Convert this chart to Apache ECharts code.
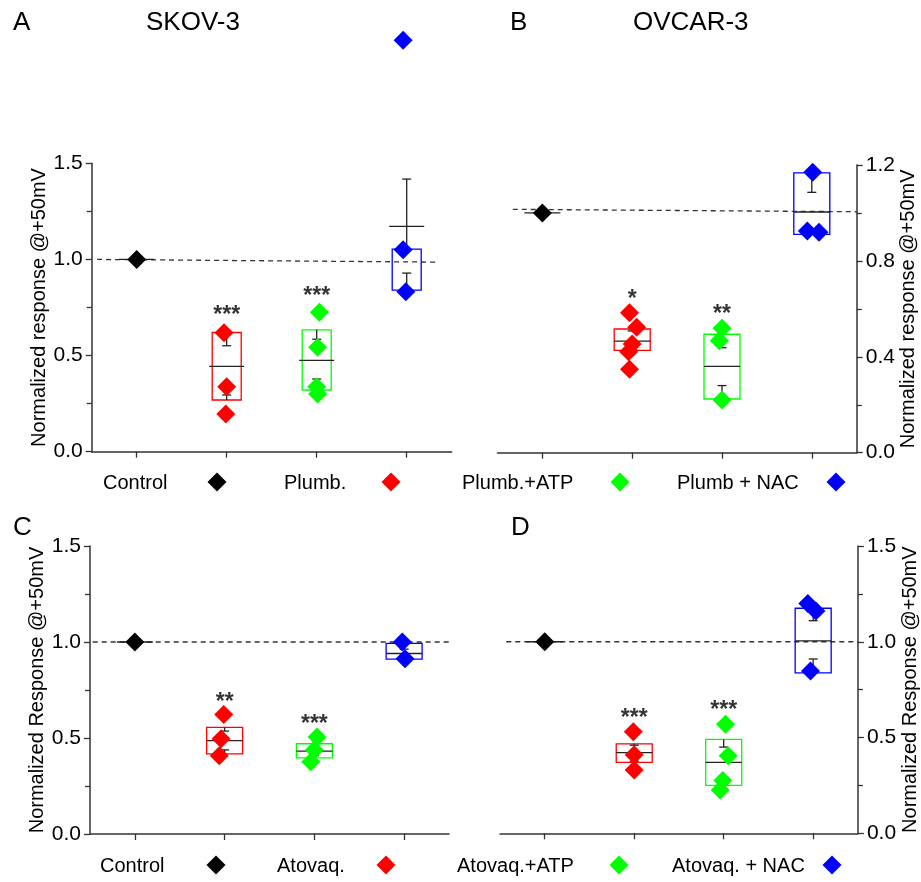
<!DOCTYPE html>
<html><head><meta charset="utf-8">
<script src="https://cdn.jsdelivr.net/npm/echarts@6/dist/echarts.min.js"></script>
<style>html,body{margin:0;padding:0;background:#fff}#c{width:921px;height:882px}</style>
</head><body><div id="c"></div>
<script>
// ---------- DATA ----------
const groupColors = ['#000000', '#ff0000', '#00ff00', '#0000ff'];
const legendTop = ['Control', 'Plumb.', 'Plumb.+ATP', 'Plumb + NAC'];
const legendBottom = ['Control', 'Atovaq.', 'Atovaq.+ATP', 'Atovaq. + NAC'];
const panelLetters = ['A', 'B', 'C', 'D'];
const cellLines = ['SKOV-3', 'OVCAR-3'];
const yNames = ['Normalized response @+50mV', 'Normalized response @+50mV',
                'Normalized Response @+50mV', 'Normalized Response @+50mV'];
const yTicksA = [0, 0.5, 1.0, 1.5];
const yTicksB = [0, 0.4, 0.8, 1.2];
const yTicksC = [0, 0.5, 1.0, 1.5];
const yTicksD = [0, 0.5, 1.0, 1.5];
const groupX = [1, 2, 3, 4];

// individual points [x, value]
const ptsA_control = [[1, 1.0]];
const ptsA_drug = [[1.97, 0.619], [2.0, 0.338], [1.99, 0.196]];
const ptsA_atp = [[3.03, 0.725], [3.01, 0.543], [3.0, 0.338], [3.01, 0.30]];
const ptsA_nac = [[3.96, 1.05], [3.99, 0.832], [3.96, 2.14]];

const ptsB_control = [[1, 1.0]];
const ptsB_drug = [[1.97, 0.584], [2.05, 0.523], [2.0, 0.453], [1.96, 0.421], [1.97, 0.348]];
const ptsB_atp = [[3.0, 0.519], [2.97, 0.467], [3.0, 0.22]];
const ptsB_nac = [[4.01, 1.17], [3.95, 0.925], [4.08, 0.92]];

const ptsC_control = [[1, 1.0]];
const ptsC_drug = [[1.99, 0.622], [1.96, 0.496], [1.94, 0.408]];
const ptsC_atp = [[3.03, 0.505], [3.0, 0.438], [2.96, 0.376]];
const ptsC_nac = [[3.98, 1.0], [4.01, 0.913]];

const ptsD_control = [[1, 1.0]];
const ptsD_drug = [[1.99, 0.53], [2.0, 0.41], [2.0, 0.33]];
const ptsD_atp = [[3.02, 0.57], [3.05, 0.405], [2.99, 0.276], [2.96, 0.226]];
const ptsD_nac = [[3.94, 1.2], [4.03, 1.16], [3.97, 0.848]];

// box stats [x, q1, q3, mean, lowerCap, upperCap]
const boxA = [[1, 1, 1, 1, 1, 1], [2, 0.269, 0.62, 0.444, 0.295, 0.551], [3, 0.321, 0.634, 0.475, 0.378, 0.585], [4, 0.84, 1.054, 1.172, 0.929, 1.418]];
const boxB = [[1, 1, 1, 1, 1, 1], [2, 0.427, 0.516, 0.465, 0.43, 0.508], [3, 0.224, 0.494, 0.36, 0.28, 0.438], [4, 0.911, 1.167, 1.004, 0.918, 1.086]];
const boxC = [[1, 1, 1, 1, 1, 1], [2, 0.417, 0.555, 0.486, 0.438, 0.536], [3, 0.397, 0.47, 0.432, 0.409, 0.456], [4, 0.911, 0.993, 0.94, 0.913, 0.963]];
const boxD = [[1, 1, 1, 1, 1, 1], [2, 0.37, 0.467, 0.421, 0.377, 0.46], [3, 0.25, 0.49, 0.37, 0.295, 0.45], [4, 0.838, 1.175, 1.005, 0.91, 1.11]];

// significance marks [x, value, text]
const starsA = [[2, 0.71, '***'], [3, 0.805, '***']];
const starsB = [[2, 0.64, '*'], [3, 0.577, '**']];
const starsC = [[2, 0.685, '**'], [3, 0.57, '***']];
const starsD = [[2, 0.597, '***'], [3, 0.638, '***']];

// dashed reference line [x, value]
const refA = [[0.56, 1.0], [4.34, 0.986]];
const refB = [[0.67, 1.015], [4.5, 1.005]];
const refC = [[0.53, 1.0], [4.52, 1.0]];
const refD = [[0.57, 1.0], [4.5, 1.0]];

// ---------- LAYOUT ----------
const FONT = '"Liberation Sans", Arial, sans-serif';
const AX = '#333333';
const panels = [
  {grid: {left: 91.7, top: 163.3, width: 360, height: 288.4}, pos: 'left', ticks: yTicksA, boxW: 29, meanW: 35,
   pts: [ptsA_control, ptsA_drug, ptsA_atp, ptsA_nac], box: boxA, stars: starsA, ref: refA},
  {grid: {left: 497.5, top: 165, width: 359.2, height: 287.7}, pos: 'right', ticks: yTicksB, boxW: 36, meanW: 36,
   pts: [ptsB_control, ptsB_drug, ptsB_atp, ptsB_nac], box: boxB, stars: starsB, ref: refB},
  {grid: {left: 90, top: 546, width: 359, height: 288}, pos: 'left', ticks: yTicksC, boxW: 36, meanW: 36,
   pts: [ptsC_control, ptsC_drug, ptsC_atp, ptsC_nac], box: boxC, stars: starsC, ref: refC},
  {grid: {left: 500, top: 546, width: 359.3, height: 287.3}, pos: 'right', ticks: yTicksD, boxW: 36, meanW: 36,
   pts: [ptsD_control, ptsD_drug, ptsD_atp, ptsD_nac], box: boxD, stars: starsD, ref: refD}
];

function boxRenderer(boxW, meanW) {
  const capW = 9;
  return function (params, api) {
    const x = api.value(0), q1 = api.value(1), q3 = api.value(2), mean = api.value(3), lo = api.value(4), hi = api.value(5);
    const col = groupColors[params.dataIndex];
    const cx = api.coord([x, q1])[0];
    const yq1 = api.coord([x, q1])[1], yq3 = api.coord([x, q3])[1];
    const ym = api.coord([x, mean])[1], ylo = api.coord([x, lo])[1], yhi = api.coord([x, hi])[1];
    const ls = {stroke: '#222', lineWidth: 1.3};
    const children = [];
    if (Math.abs(yq1 - yq3) > 0.5) {
      children.push({type: 'rect', shape: {x: cx - boxW / 2, y: yq3, width: boxW, height: yq1 - yq3},
        style: {fill: 'none', stroke: col, lineWidth: 1.3}});
    }
    if (Math.abs(yhi - yq3) > 0.5) {
      children.push({type: 'line', shape: {x1: cx, y1: yq3, x2: cx, y2: yhi}, style: ls});
      children.push({type: 'line', shape: {x1: cx - capW / 2, y1: yhi, x2: cx + capW / 2, y2: yhi}, style: ls});
    }
    if (Math.abs(ylo - yq1) > 0.5) {
      children.push({type: 'line', shape: {x1: cx, y1: yq1, x2: cx, y2: ylo}, style: ls});
      children.push({type: 'line', shape: {x1: cx - capW / 2, y1: ylo, x2: cx + capW / 2, y2: ylo}, style: ls});
    }
    children.push({type: 'line', shape: {x1: cx - meanW / 2, y1: ym, x2: cx + meanW / 2, y2: ym}, style: ls});
    return {type: 'group', children};
  };
}

const grids = [], xAxes = [], yAxes = [], series = [];
panels.forEach((p, i) => {
  grids.push(Object.assign({containLabel: false}, p.grid));
  xAxes.push({
    type: 'value', gridIndex: i, min: 0.5, max: 4.5,
    axisLine: {show: true, onZero: false, lineStyle: {color: AX, width: 1.5}},
    axisTick: {show: true, length: 6, customValues: groupX, lineStyle: {color: AX, width: 1.3}},
    axisLabel: {show: false}, splitLine: {show: false}
  });
  const t = p.ticks;
  yAxes.push({
    type: 'value', gridIndex: i, position: p.pos,
    min: t[0], max: t[t.length - 1], interval: t[1] - t[0],
    axisLine: {show: true, onZero: false, lineStyle: {color: AX, width: 1.5}},
    axisTick: {show: true, length: 6, lineStyle: {color: AX, width: 1.3}},
    minorTick: {show: true, splitNumber: 2, length: 5, lineStyle: {color: AX, width: 1.3}},
    splitLine: {show: false}, minorSplitLine: {show: false},
    axisLabel: {fontSize: 21, color: '#000', fontFamily: FONT, margin: 9, formatter: v => v.toFixed(1)},
    name: yNames[i], nameLocation: 'middle', nameGap: 41, nameRotate: 90,
    nameTextStyle: {fontSize: 20, color: '#000', fontFamily: FONT}
  });
  series.push({
    type: 'line', xAxisIndex: i, yAxisIndex: i, data: p.ref, symbol: 'none', silent: true, z: 1,
    lineStyle: {type: [5, 4], color: AX, width: 1.3}
  });
  series.push({
    type: 'custom', xAxisIndex: i, yAxisIndex: i, data: p.box, renderItem: boxRenderer(p.boxW, p.meanW),
    silent: true, z: 2, clip: false
  });
  p.pts.forEach((pts, g) => {
    series.push({
      type: 'scatter', xAxisIndex: i, yAxisIndex: i, data: pts, symbol: 'diamond', symbolSize: 19,
      itemStyle: {color: groupColors[g], opacity: 1}, clip: false, z: 3, silent: true
    });
  });
  series.push({
    type: 'scatter', xAxisIndex: i, yAxisIndex: i, data: p.stars, symbolSize: 1,
    itemStyle: {color: 'rgba(0,0,0,0)'}, silent: true, z: 4,
    label: {show: true, position: 'inside', formatter: d => d.value[2], fontSize: 23, fontWeight: 'bold',
      color: '#000', fontFamily: FONT}
  });
});

// titles & legends as graphic text
const graphic = [];
const letterPos = [[13, 22.5], [510, 22.5], [13, 528], [511, 528]];
panelLetters.forEach((L, i) => graphic.push({type: 'text', x: letterPos[i][0], y: letterPos[i][1],
  style: {text: L, font: '26px ' + FONT, fill: '#000', verticalAlign: 'middle', align: 'left'}}));
const linePos = [[146, 22.5], [633, 22.5]];
cellLines.forEach((s, i) => graphic.push({type: 'text', x: linePos[i][0], y: linePos[i][1],
  style: {text: s, font: '26px ' + FONT, fill: '#000', verticalAlign: 'middle', align: 'left'}}));

const legRows = [
  {names: legendTop, y: 483, textX: [103, 284, 462, 677], iconX: [217, 391, 620, 836]},
  {names: legendBottom, y: 866, textX: [100, 277, 457, 672], iconX: [216, 386, 619, 832]}
];
legRows.forEach(r => {
  r.names.forEach((n, k) => {
    graphic.push({type: 'text', x: r.textX[k], y: r.y,
      style: {text: n, font: '20px ' + FONT, fill: '#000', verticalAlign: 'middle', align: 'left'}});
    graphic.push({type: 'polygon', x: r.iconX[k], y: r.y - 1,
      shape: {points: [[0, -9.5], [9.5, 0], [0, 9.5], [-9.5, 0]]}, style: {fill: groupColors[k]}});
  });
});

const chart = echarts.init(document.getElementById('c'), null, {renderer: 'canvas'});
chart.setOption({
  animation: false, backgroundColor: '#ffffff',
  grid: grids, xAxis: xAxes, yAxis: yAxes, series, graphic
});
</script></body></html>
